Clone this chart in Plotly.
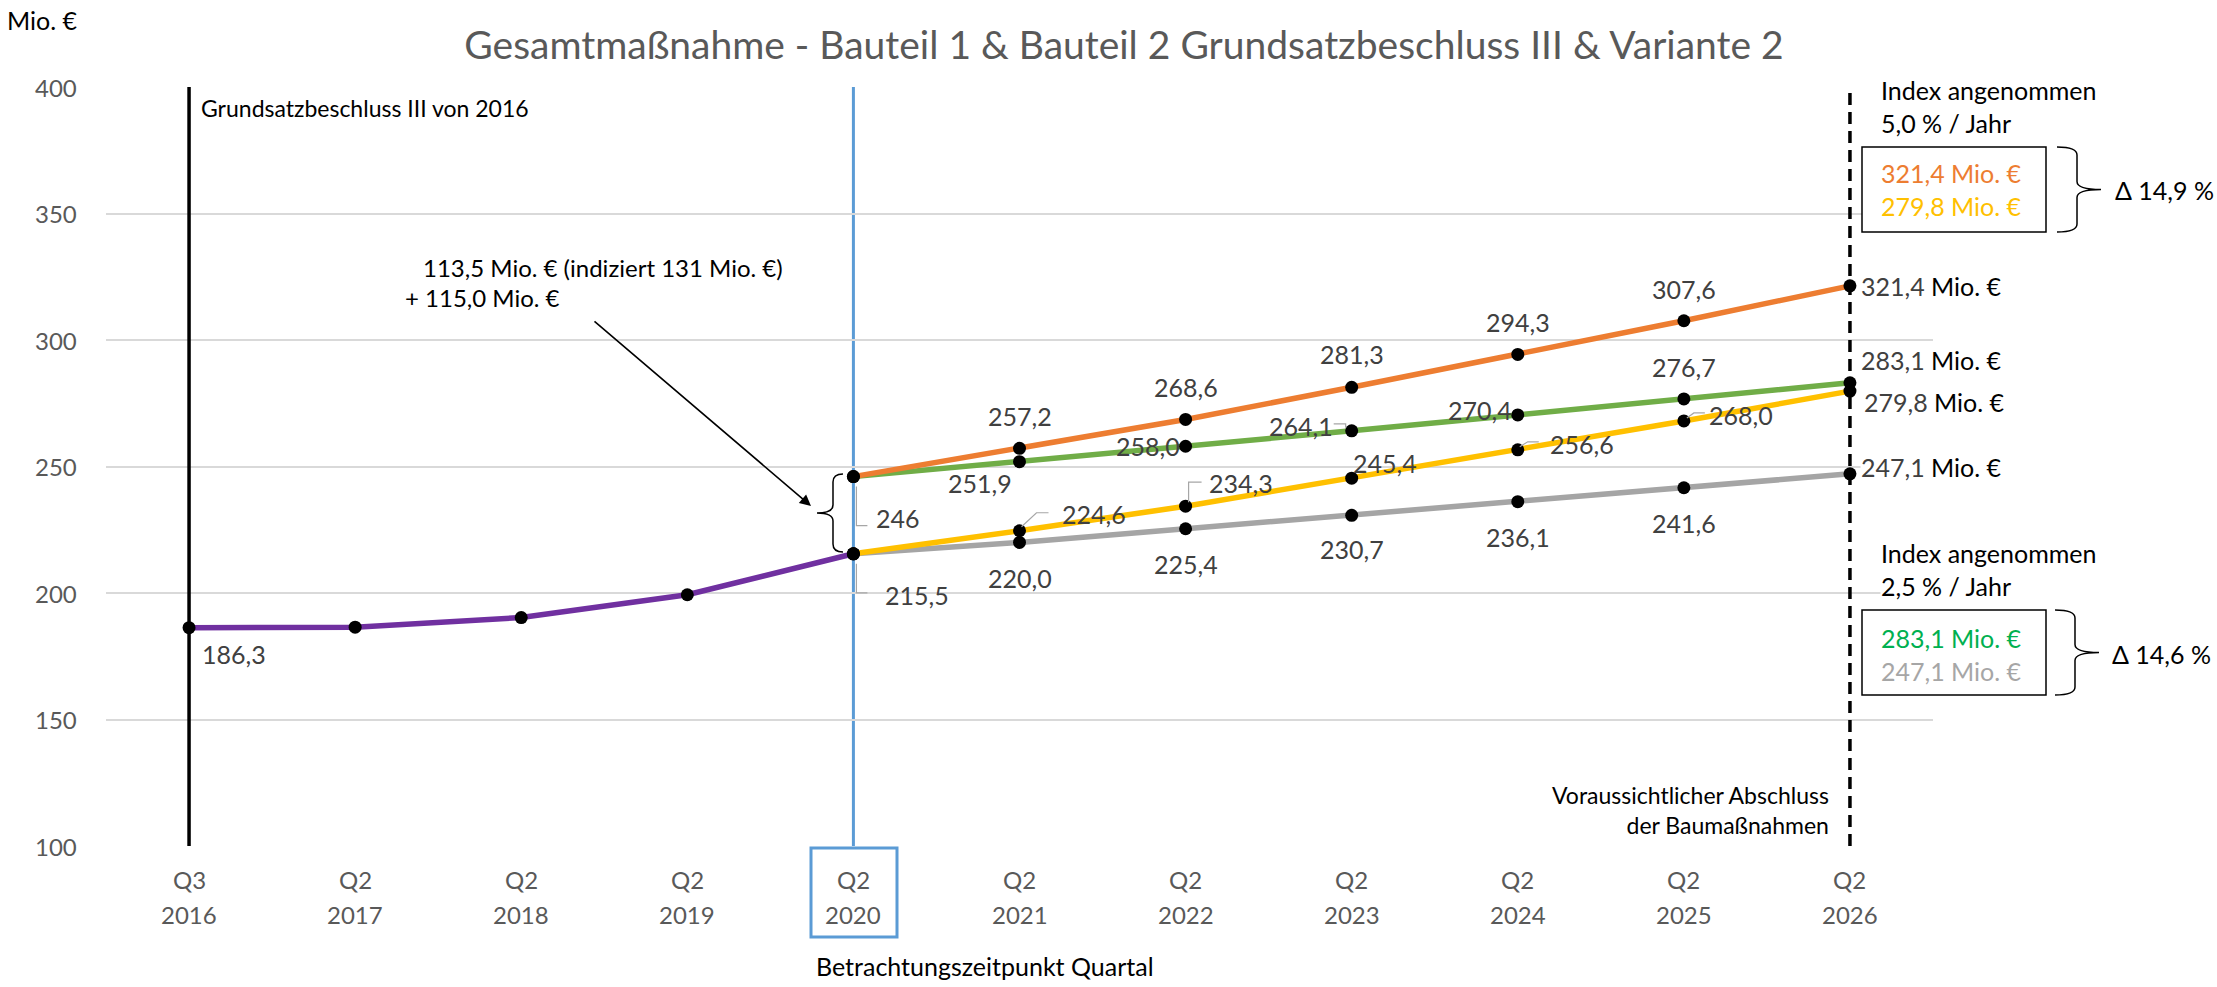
import plotly.graph_objects as go

# ---------------- data ----------------
quarters = ["Q3", "Q2", "Q2", "Q2", "Q2", "Q2", "Q2", "Q2", "Q2", "Q2", "Q2"]
years = ["2016", "2017", "2018", "2019", "2020", "2021", "2022", "2023", "2024", "2025", "2026"]

purple_x = [0, 1, 2, 3, 4]
purple_vals = [186.3, 186.5, 190.3, 199.3, 215.5]

proj_x = [4, 5, 6, 7, 8, 9, 10]
orange_vals = [246.0, 257.2, 268.6, 281.3, 294.3, 307.6, 321.4]   # 5,0 % / Jahr, Variante 2
green_vals = [246.0, 251.9, 258.0, 264.1, 270.4, 276.7, 283.1]    # 2,5 % / Jahr, Variante 2
yellow_vals = [215.5, 224.6, 234.3, 245.4, 256.6, 268.0, 279.8]   # 5,0 % / Jahr, GB III
gray_vals = [215.5, 220.0, 225.4, 230.7, 236.1, 241.6, 247.1]     # 2,5 % / Jahr, GB III

y_ticks = [100, 150, 200, 250, 300, 350, 400]

# ---------------- geometry helpers ----------------
W, H = 2217, 987
L, R, T, B = 106, 284, 87, 141
PW = W - L - R
PH = H - T - B
FONT = "Lato"
LBL = "#404040"
TICK = "#595959"

C_PURPLE = "#7030A0"
C_ORANGE = "#ED7D31"
C_GREEN = "#70AD47"
C_YELLOW = "#FFC000"
C_GRAY = "#A5A5A5"
C_BLUE = "#5B9BD5"


def px(x):
    return (x - L) / PW


def py(y):
    return (H - B - y) / PH


def fmt(v, dec=1):
    return f"{v:.{dec}f}".replace(".", ",")


fig = go.Figure()

series = [
    (proj_x, gray_vals, C_GRAY),
    (proj_x, yellow_vals, C_YELLOW),
    (proj_x, green_vals, C_GREEN),
    (proj_x, orange_vals, C_ORANGE),
    (purple_x, purple_vals, C_PURPLE),
]
for xs, ys, col in series:
    fig.add_trace(go.Scatter(
        x=xs, y=ys, mode="lines", line=dict(color=col, width=5.5),
        showlegend=False, hoverinfo="skip"))
for xs, ys, col in series:
    fig.add_trace(go.Scatter(
        x=xs, y=ys, mode="markers", marker=dict(color="black", size=13),
        showlegend=False, hoverinfo="skip"))

ann = []
shapes = []


def data_label(x, v, text, dx, dy, anchor="center", end=False):
    t = text
    if end:
        t = f"{text}<span style='color:black'> Mio. €</span>"
    ann.append(dict(x=x, y=v, xref="x", yref="y", text=t, showarrow=False,
                    xanchor=anchor, yanchor="middle", xshift=dx, yshift=dy,
                    font=dict(family=FONT, size=25, color=LBL),
                    bgcolor="white" if end else None, borderpad=0))


# label placement (pixel offsets from the point)
orange_pos = [(22, -41, "left"), (0, 32, "center"), (0, 32, "center"), (0, 33, "center"),
              (0, 32, "center"), (0, 32, "center"), (10, 0, "left")]
green_pos = [None, (-40, -21, "center"), (-38, 0, "center"), (-51, 5, "center"),
             (-38, 5, "center"), (0, 32, "center"), (10, 23, "left")]
yellow_pos = [(31, -41, "left"), (41, 17, "left"), (22, 23, "left"), (0, 15, "left"),
              (31, 6, "left"), (24, 6, "left"), (13, -11, "left")]
gray_pos = [None, (0, -36, "center"), (0, -35, "center"), (0, -34, "center"),
            (0, -35, "center"), (0, -35, "center"), (10, 7, "left")]

for vals, pos in [(orange_vals, orange_pos), (green_vals, green_pos),
                  (yellow_vals, yellow_pos), (gray_vals, gray_pos)]:
    for i, (x, v) in enumerate(zip(proj_x, vals)):
        p = pos[i]
        if p is None:
            continue
        txt = fmt(v, 0) if v == round(v) and i == 0 else fmt(v)
        data_label(x, v, txt, p[0], p[1], p[2], end=(i == len(vals) - 1))

data_label(purple_x[0], purple_vals[0], fmt(purple_vals[0]), 12, -26, "left")


def leader(x, v, path):
    shapes.append(dict(type="path", xref="x", yref="y", xsizemode="pixel", ysizemode="pixel",
                       xanchor=x, yanchor=v, path=path,
                       line=dict(color="#A6A6A6", width=1.2), layer="above"))


leader(proj_x[0], orange_vals[0], "M3,-10 L3,-49 L14,-49")
leader(proj_x[0], yellow_vals[0], "M3,-10 L3,-39 L14,-39")
leader(proj_x[1], yellow_vals[1], "M2,4 L17,18 L29,18")
leader(proj_x[2], yellow_vals[2], "M3,4 L3,24 L16,24")
leader(proj_x[4], yellow_vals[4], "M2,3 L10,8 L21,8")
leader(proj_x[5], yellow_vals[5], "M3,3 L10,8 L21,8")
leader(proj_x[3], green_vals[3], "M-18,7 L-6,7 L-6,3")

# vertical marker lines
shapes.append(dict(type="line", xref="x", yref="y", x0=0, x1=0, y0=y_ticks[0], y1=y_ticks[-1],
                   line=dict(color="black", width=3.5), layer="above"))
shapes.append(dict(type="line", xref="x", yref="y", x0=4, x1=4, y0=y_ticks[0], y1=y_ticks[-1],
                   line=dict(color=C_BLUE, width=3), layer="below"))
shapes.append(dict(type="line", xref="x", yref="y", x0=10, x1=10, y0=y_ticks[0], y1=y_ticks[-1] + 3,
                   line=dict(color="black", width=3.5, dash="12px,7px"), layer="above"))

# blue box around the reference quarter label
shapes.append(dict(type="rect", xref="paper", yref="paper", x0=px(811), x1=px(897),
                   y0=py(848), y1=py(937), line=dict(color=C_BLUE, width=3)))

# value boxes on the right
for (y0, y1) in [(147, 232), (610, 695)]:
    shapes.append(dict(type="rect", xref="paper", yref="paper", x0=px(1862), x1=px(2046),
                       y0=py(y0), y1=py(y1), line=dict(color="black", width=1.5),
                       fillcolor="white", layer="above"))


def brace(xa, xs, xt, yt, yb, r=8):
    ym = (yt + yb) / 2
    pts = [
        ("M", [(xa, yt)]),
        ("Q", [(xs, yt), (xs, yt + r)]),
        ("L", [(xs, ym - r)]),
        ("Q", [(xs, ym), (xt, ym)]),
        ("Q", [(xs, ym), (xs, ym + r)]),
        ("L", [(xs, yb - r)]),
        ("Q", [(xs, yb), (xa, yb)]),
    ]
    s = ""
    for cmd, cs in pts:
        s += cmd + " ".join(f"{px(a):.5f},{py(b):.5f}" for a, b in cs) + " "
    shapes.append(dict(type="path", xref="paper", yref="paper", path=s.strip(),
                       line=dict(color="black", width=1.5), layer="above"))


brace(843, 833, 817, 474, 552)
brace(2057, 2077, 2101, 147, 232)
brace(2055, 2075, 2099, 610, 695)


def text(x, y, t, size=24, color="black", anchor="left", bg=None):
    ann.append(dict(x=px(x), y=py(y), xref="paper", yref="paper", text=t, showarrow=False,
                    xanchor=anchor, yanchor="middle", align=anchor,
                    font=dict(family=FONT, size=size, color=color),
                    bgcolor=bg, borderpad=0))


# x tick labels (two rows)
for i, (q, yr) in enumerate(zip(quarters, years)):
    for lab, yy in [(q, 879), (yr, 915)]:
        ann.append(dict(x=i, y=py(yy), xref="x", yref="paper", text=lab, showarrow=False,
                        xanchor="center", yanchor="middle",
                        font=dict(family=FONT, size=24, color=TICK)))

# y tick labels
for v in y_ticks:
    ann.append(dict(x=px(79), y=v, xref="paper", yref="y", text=str(v), showarrow=False,
                    xanchor="right", yanchor="middle",
                    font=dict(family=FONT, size=24, color=TICK)))

text(6, 20, "Mio. €", size=25)
text(200, 108, "Grundsatzbeschluss III von 2016", size=23)
text(422, 267, "113,5 Mio. € (indiziert 131 Mio. €)", size=24)
text(404, 297, "+ 115,0 Mio. €", size=24)

text(1880, 106, "Index angenommen<br>5,0 % / Jahr", size=25, bg="white")
text(1880, 190, f"<span style='color:{C_ORANGE}'>{fmt(orange_vals[-1])} Mio. €</span><br>"
                f"<span style='color:{C_YELLOW}'>{fmt(yellow_vals[-1])} Mio. €</span>", size=25)
text(2114, 190, f"Δ {fmt((orange_vals[-1] / yellow_vals[-1] - 1) * 100)} %", size=25)

text(1880, 569, "Index angenommen<br>2,5 % / Jahr", size=25, bg="white")
text(1880, 654, f"<span style='color:#00B050'>{fmt(green_vals[-1])} Mio. €</span><br>"
                f"<span style='color:#A6A6A6'>{fmt(gray_vals[-1])} Mio. €</span>", size=25)
text(2111, 654, f"Δ {fmt((green_vals[-1] / gray_vals[-1] - 1) * 100)} %", size=25)

text(1830, 810, "Voraussichtlicher Abschluss<br>der Baumaßnahmen", size=23, anchor="right")
text(815, 966, "Betrachtungszeitpunkt Quartal", size=25)

# arrow
ann.append(dict(x=px(811), y=py(506), xref="paper", yref="paper", text="", showarrow=True,
                ax=593 - 811, ay=320 - 506, arrowhead=2, arrowsize=1.4, arrowwidth=1.6,
                arrowcolor="black", standoff=0))

fig.update_layout(
    width=W, height=H,
    margin=dict(l=L, r=R, t=T, b=B),
    paper_bgcolor="white", plot_bgcolor="white",
    title=dict(text="Gesamtmaßnahme - Bauteil 1 & Bauteil 2 Grundsatzbeschluss III & Variante 2",
               x=1124 / W, xanchor="center", y=1 - 45 / H, yanchor="middle",
               font=dict(family=FONT, size=39, color=TICK)),
    xaxis=dict(range=[-0.5, 10.5], showgrid=False, zeroline=False, showticklabels=False,
               showline=False, fixedrange=True),
    yaxis=dict(range=[y_ticks[0], y_ticks[-1]], tickvals=y_ticks, showgrid=True,
               gridcolor="#D9D9D9", gridwidth=1.5, zeroline=False, showline=False,
               ticks="", showticklabels=False, fixedrange=True),
    annotations=ann,
    shapes=shapes,
    font=dict(family=FONT),
)

fig.write_html("out.html", config={"displayModeBar": False},
               post_script="document.body.style.margin='0px';")
